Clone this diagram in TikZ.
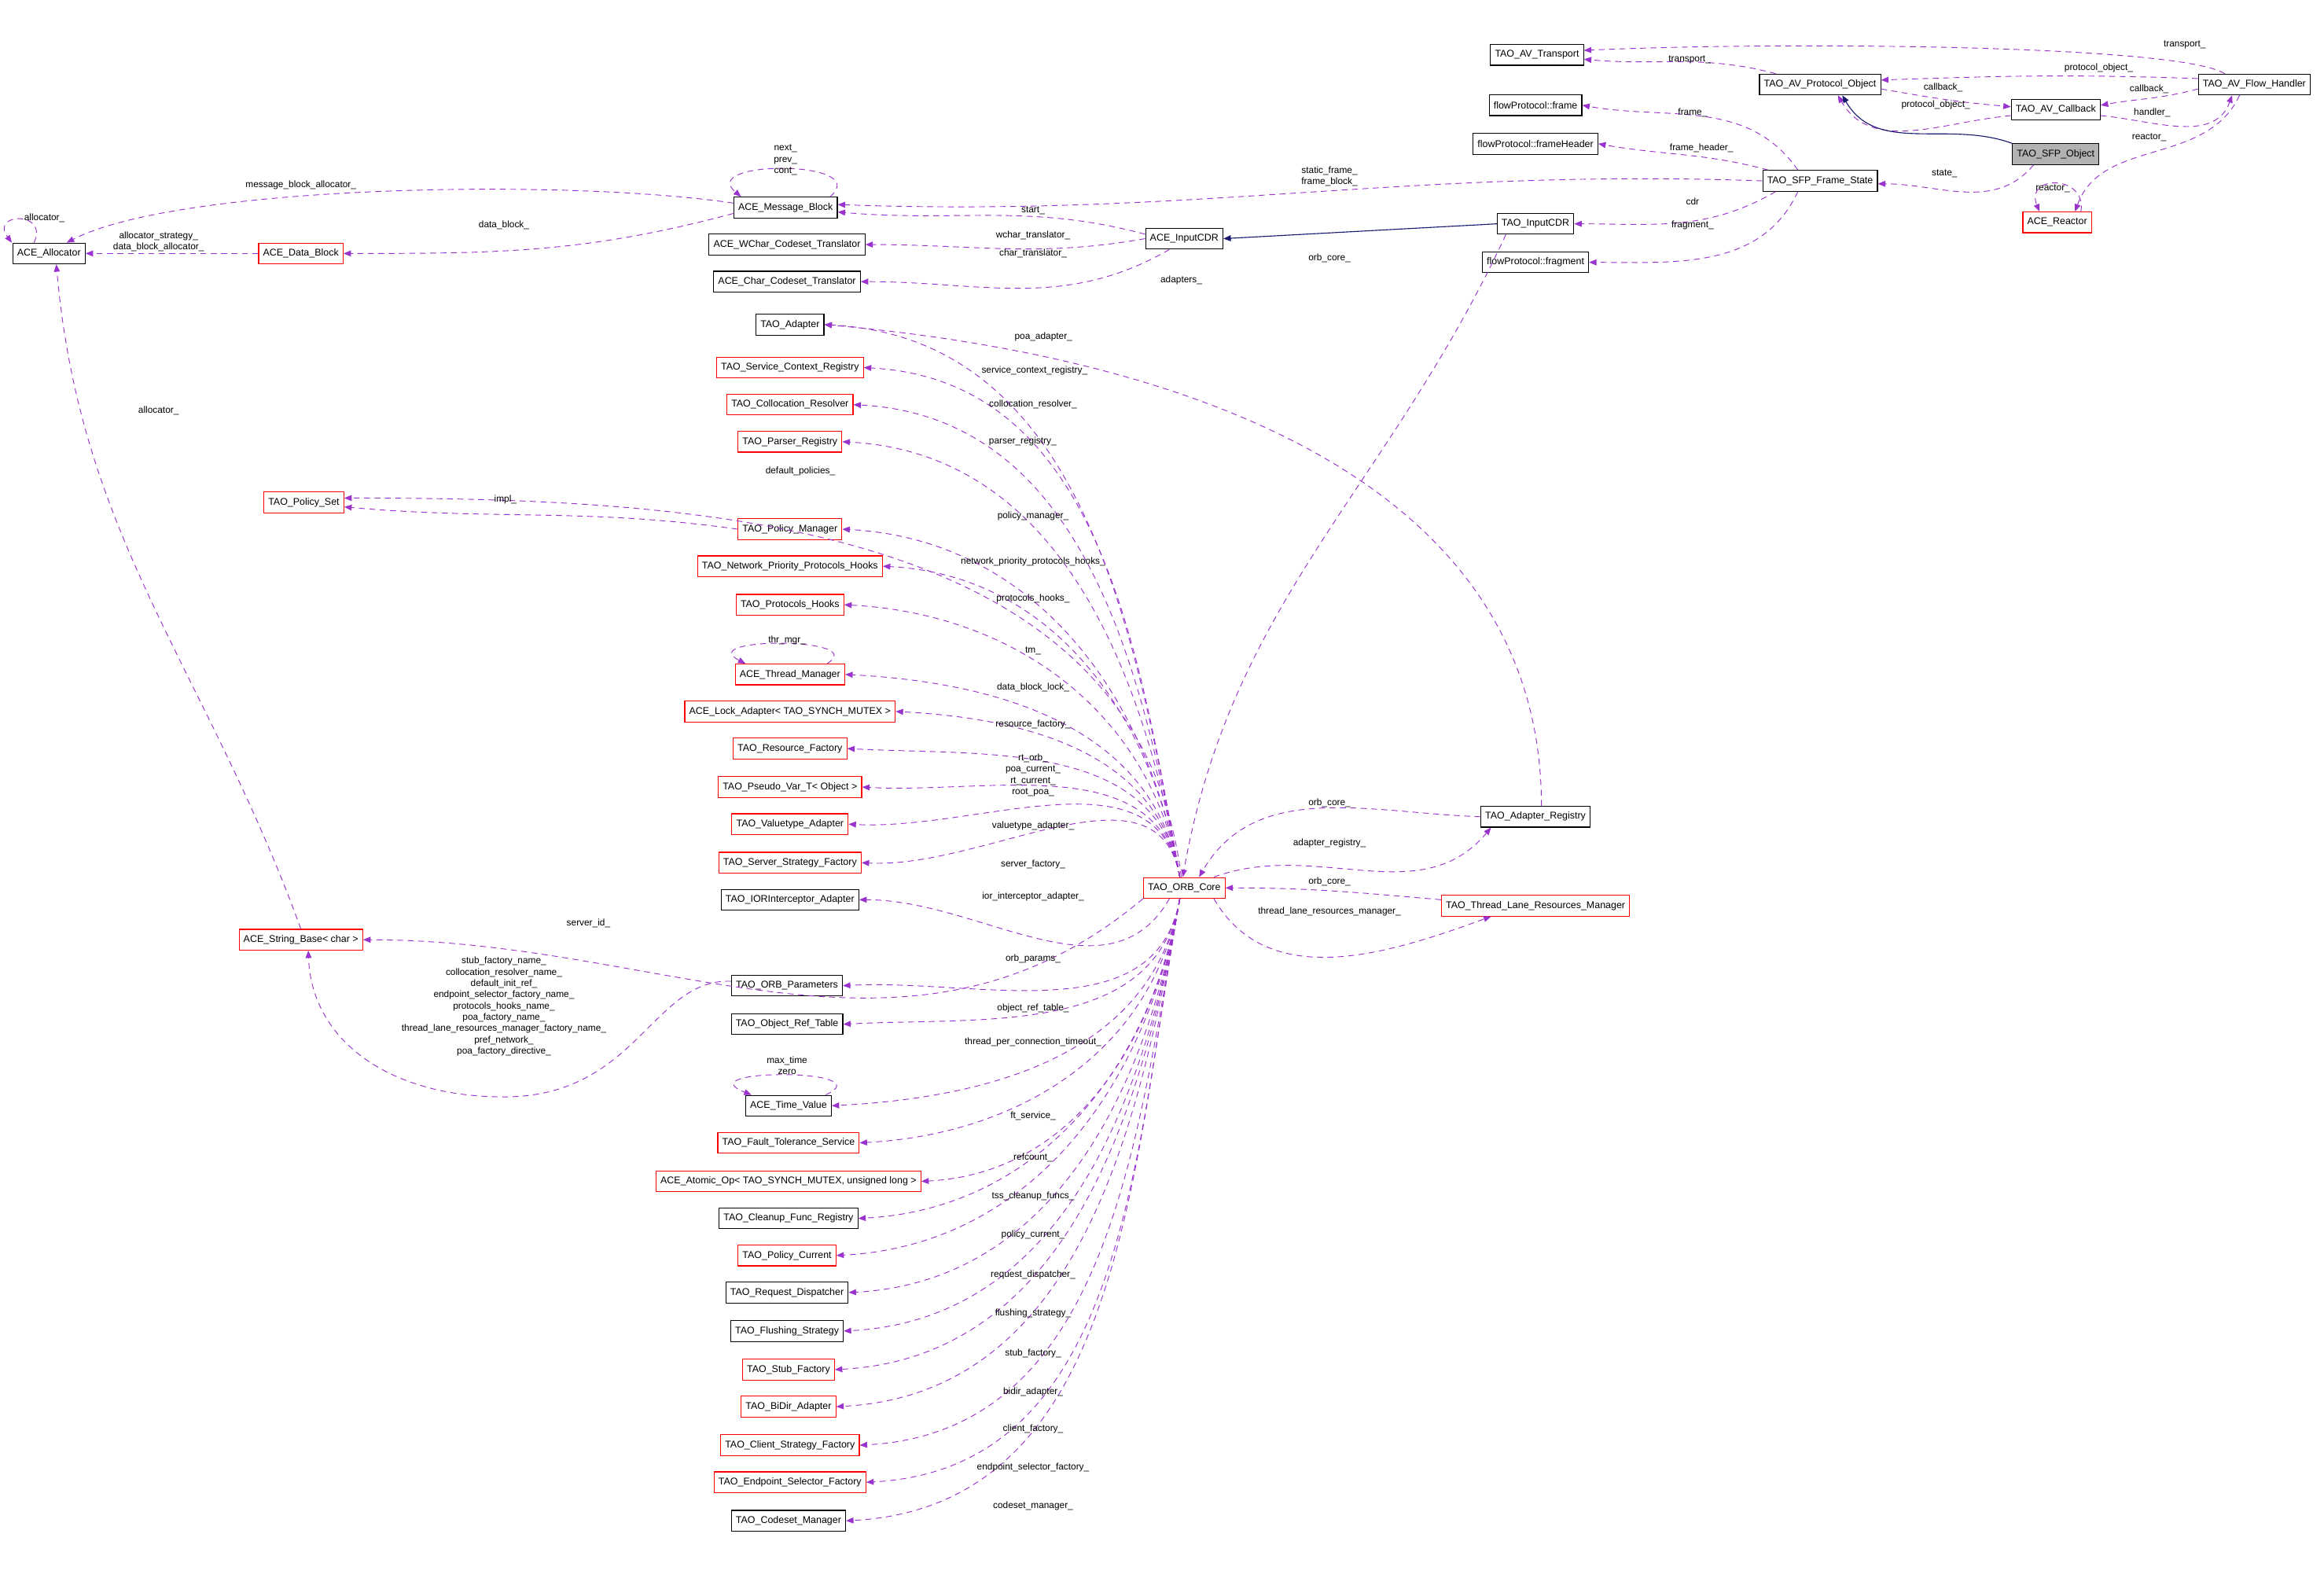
\documentclass[tikz,border=0pt]{standalone}
\usepackage{fontspec}
\setmainfont{Liberation Sans}
\usetikzlibrary{arrows.meta}
\definecolor{dep}{HTML}{9A32CD}
\definecolor{inh}{HTML}{191970}
\begin{document}
\begin{tikzpicture}[x=1pt,y=1pt,
 cls/.style={draw=black,line width=0.6pt,minimum height=14pt,inner xsep=3pt,inner ysep=0pt,font=\fontsize{6.6}{7}\selectfont,fill=white},
 rcls/.style={cls,draw=red},
 dp/.style={draw=dep,dashed,dash pattern=on 4pt off 3pt,line width=0.5pt,-{Triangle[length=5pt,width=4pt,fill=dep]}},
 ih/.style={draw=inh,line width=0.6pt,-{Triangle[length=5pt,width=4pt,fill=inh]}},
 lb/.style={font=\fontsize{6.3}{7.6}\selectfont,align=center,inner sep=0pt}]
\useasboundingbox[fill=white] (0,0) rectangle (1568,-1072);
% top right
\node[cls] (tr) at (1037,-37) {TAO\_AV\_Transport};
\node[cls] (po) at (1228,-57) {TAO\_AV\_Protocol\_Object};
\node[cls] (fh) at (1521,-57) {TAO\_AV\_Flow\_Handler};
\node[cls] (cb) at (1387,-74) {TAO\_AV\_Callback};
\node[cls,fill=black!30] (sfp) at (1387,-104) {TAO\_SFP\_Object};
\node[rcls] (re) at (1388,-150) {ACE\_Reactor};
\node[cls] (fr) at (1036,-71) {flowProtocol::frame};
\node[cls] (fhd) at (1036,-97) {flowProtocol::frameHeader};
\node[cls] (fs) at (1228,-122) {TAO\_SFP\_Frame\_State};
\node[cls] (ic) at (1036,-151) {TAO\_InputCDR};
\node[cls] (fg) at (1036,-177) {flowProtocol::fragment};
\node[cls] (ac) at (799,-161) {ACE\_InputCDR};
\node[cls] (mb) at (530,-140) {ACE\_Message\_Block};
\node[cls] (wc) at (531,-165) {ACE\_WChar\_Codeset\_Translator};
\node[cls] (cc) at (531,-190) {ACE\_Char\_Codeset\_Translator};
\node[cls] (al) at (33,-171) {ACE\_Allocator};
\node[rcls] (db) at (203,-171) {ACE\_Data\_Block};
% orb core
\node[rcls] (orb) at (799,-599) {TAO\_ORB\_Core};
\node[cls] (ar) at (1036,-551) {TAO\_Adapter\_Registry};
\node[rcls] (tl) at (1036,-611) {TAO\_Thread\_Lane\_Resources\_Manager};
\node[rcls] (ps) at (205,-339) {TAO\_Policy\_Set};
\node[rcls] (sb) at (203,-634) {ACE\_String\_Base< char >};
% member column
\node[cls] (m1) at (533,-219) {TAO\_Adapter};
\node[rcls] (m2) at (533,-248) {TAO\_Service\_Context\_Registry};
\node[rcls] (m3) at (533,-273) {TAO\_Collocation\_Resolver};
\node[rcls] (m4) at (533,-298) {TAO\_Parser\_Registry};
\node[rcls] (pm) at (533,-357) {TAO\_Policy\_Manager};
\node[rcls] (m6) at (533,-382) {TAO\_Network\_Priority\_Protocols\_Hooks};
\node[rcls] (m7) at (533,-408) {TAO\_Protocols\_Hooks};
\node[rcls] (tm) at (533,-455) {ACE\_Thread\_Manager};
\node[rcls] (m9) at (533,-480) {ACE\_Lock\_Adapter< TAO\_SYNCH\_MUTEX >};
\node[rcls] (m10) at (533,-505) {TAO\_Resource\_Factory};
\node[rcls] (m11) at (533,-531) {TAO\_Pseudo\_Var\_T< Object >};
\node[rcls] (m12) at (533,-556) {TAO\_Valuetype\_Adapter};
\node[rcls] (m13) at (533,-582) {TAO\_Server\_Strategy\_Factory};
\node[cls] (m14) at (533,-607) {TAO\_IORInterceptor\_Adapter};
\node[cls] (op) at (531,-665) {TAO\_ORB\_Parameters};
\node[cls] (m16) at (531,-691) {TAO\_Object\_Ref\_Table};
\node[cls] (tv) at (532,-746) {ACE\_Time\_Value};
\node[rcls] (m18) at (532,-771) {TAO\_Fault\_Tolerance\_Service};
\node[rcls] (m19) at (532,-797) {ACE\_Atomic\_Op< TAO\_SYNCH\_MUTEX, unsigned long >};
\node[cls] (m20) at (532,-822) {TAO\_Cleanup\_Func\_Registry};
\node[rcls] (m21) at (531,-847) {TAO\_Policy\_Current};
\node[cls] (m22) at (531,-872) {TAO\_Request\_Dispatcher};
\node[cls] (m23) at (531,-898) {TAO\_Flushing\_Strategy};
\node[rcls] (m24) at (532,-924) {TAO\_Stub\_Factory};
\node[rcls] (m25) at (532,-949) {TAO\_BiDir\_Adapter};
\node[rcls] (m26) at (533,-975) {TAO\_Client\_Strategy\_Factory};
\node[rcls] (m27) at (533,-1000) {TAO\_Endpoint\_Selector\_Factory};
\node[cls] (m28) at (532,-1026) {TAO\_Codeset\_Manager};
% top right edges
\draw[dp] ([xshift=-20]fh.north) .. controls (1470,-30) and (1200,-28) .. ([yshift=3]tr.east);
\draw[dp] ([xshift=-30]po.north) to[out=165,in=-5] ([yshift=-3]tr.east);
\draw[dp] ([yshift=4]fh.west) to[out=178,in=2] ([yshift=3]po.east);
\draw[dp] ([yshift=-3]po.east) to[out=-10,in=175] ([yshift=2]cb.west);
\draw[dp] ([yshift=-3]fh.west) to[out=195,in=10] ([yshift=3]cb.east);
\draw[dp] ([yshift=-4]cb.west) to[out=185,in=-60] ([xshift=12]po.south);
\draw[dp] ([yshift=-4]cb.east) to[out=-5,in=-110] ([xshift=-15]fh.south);
\draw[dp] ([xshift=-10]fh.south) to[out=-115,in=70] ([xshift=12]re.north);
\draw[dp] ([xshift=16]re.north) .. controls +(4,25) and +(-10,25) .. ([xshift=-12]re.north);
\draw[ih] (sfp.north west) to[out=160,in=-60] ([xshift=15]po.south);
\draw[dp] ([xshift=-15]sfp.south) to[out=-130,in=0] ([yshift=-2]fs.east);
\draw[dp] ([xshift=-15]fs.north) to[out=125,in=-10] (fr.east);
\draw[dp] ([xshift=-35]fs.north) to[out=165,in=-10] (fhd.east);
\draw[dp] ([xshift=-30]fs.south) to[out=-150,in=0] (ic.east);
\draw[dp] ([xshift=-15]fs.south) to[out=-115,in=0] (fg.east);
\draw[dp] (fs.west) to[out=178,in=-2] ([yshift=2]mb.east);
\draw[ih] (ic.west) to (ac.east);
\draw[dp] ([yshift=3]ac.west) to[out=165,in=-5] ([yshift=-3]mb.east);
\draw[dp] (ac.west) to[out=190,in=0] (wc.east);
\draw[dp] ([xshift=-10]ac.south) to[out=-150,in=0] (cc.east);
\draw[dp] ([xshift=-20]ic.south) to[out=-115,in=80] ([xshift=-1]orb.north);
\draw[dp] ([xshift=30]mb.north) .. controls +(30,25) and +(-30,25) .. ([xshift=-30]mb.north);
\draw[dp] ([yshift=3]mb.west) .. controls (380,-120) and (120,-125) .. ([xshift=12]al.north);
\draw[dp] ([yshift=-4]mb.west) to[out=195,in=0] (db.east);
\draw[dp] (db.west) to (al.east);
\draw[dp] ([xshift=-10]al.north) .. controls +(10,22) and +(-15,20) .. ([xshift=-25]al.north);
\draw[dp] (sb.north) to[out=110,in=-85] ([xshift=5]al.south);
% orb core edges
\draw[dp] ([xshift=4]ar.north) to[out=90,in=-5] (m1.east);
\draw[dp] (ar.west) to[out=178,in=60] ([xshift=10]orb.north);
\draw[dp] ([xshift=20]orb.north) to[out=20,in=-130] ([xshift=-30]ar.south);
\draw[dp] ([yshift=4]tl.west) to[out=175,in=0] (orb.east);
\draw[dp] ([xshift=20]orb.south) to[out=-60,in=-160] ([xshift=-30]tl.south);
\draw[dp] (pm.west) to[out=172,in=-5] ([yshift=-3]ps.east);
\draw[dp] ([xshift=-2]orb.north) to[out=97,in=0] ([yshift=3]ps.east);
\foreach \m in {m1,m2,m3,m4,pm,m6,m7,tm,m9,m10,m11,m12,m13}
  \draw[dp] ([xshift=-3]orb.north) to[out=100,in=-3] (\m.east);
\draw[dp] ([xshift=-10]orb.south) to[out=-120,in=0] (m14.east);
\draw[dp] (orb.south west) to[out=-140,in=0] (sb.east);
\foreach \m in {op,m16,tv,m18,m19,m20,m21,m22,m23,m24,m25,m26,m27,m28}
  \draw[dp] ([xshift=-3]orb.south) to[out=-100,in=3] (\m.east);
\draw[dp] ([xshift=25]tm.north) .. controls +(30,18) and +(-35,18) .. ([xshift=-30]tm.north);
\draw[dp] ([xshift=25]tv.north) .. controls +(40,18) and +(-45,18) .. ([xshift=-25]tv.north);
\draw[dp] ([yshift=3]op.west) .. controls (440,-660) and (430,-740) .. (340,-740) .. controls (260,-740) and (210,-700) .. ([xshift=5]sb.south);
% labels
\node[lb] (l1) at (1474,-30) {transport\_};
\node[lb] (l2) at (1140,-40) {transport\_};
\node[lb] (l3) at (1416,-46) {protocol\_object\_};
\node[lb] (l4) at (1311,-59) {callback\_};
\node[lb] (l5) at (1306,-71) {protocol\_object\_};
\node[lb] (l6) at (1450,-60) {callback\_};
\node[lb] (l7) at (1452,-76) {handler\_};
\node[lb] (l8) at (1450,-93) {reactor\_};
\node[lb] (l9) at (1385,-127) {reactor\_};
\node[lb] (l10) at (1142,-76) {frame\_};
\node[lb] (l11) at (1148,-100) {frame\_header\_};
\node[lb] (l12) at (1142,-136) {cdr};
\node[lb] (l13) at (1142,-152) {fragment\_};
\node[lb] (l14) at (1312,-117) {state\_};
\node[lb] (l15) at (897,-119) {static\_frame\_\\frame\_block\_};
\node[lb] (l16) at (697,-142) {start\_};
\node[lb] (l17) at (697,-159) {wchar\_translator\_};
\node[lb] (l18) at (697,-171) {char\_translator\_};
\node[lb] (l19) at (897,-174) {orb\_core\_};
\node[lb] (l20) at (530,-108) {next\_\\prev\_\\cont\_};
\node[lb] (l21) at (203,-125) {message\_block\_allocator\_};
\node[lb] (l22) at (340,-152) {data\_block\_};
\node[lb] (l23) at (107,-163) {allocator\_strategy\_\\data\_block\_allocator\_};
\node[lb] (l24) at (30,-147) {allocator\_};
\node[lb] (l25) at (107,-277) {allocator\_};
\node[lb] (l26) at (797,-189) {adapters\_};
\node[lb] (c1) at (704,-227) {poa\_adapter\_};
\node[lb] (c2) at (698,-250) {service\_context\_registry\_};
\node[lb] (c3) at (697,-273) {collocation\_resolver\_};
\node[lb] (c4) at (690,-298) {parser\_registry\_};
\node[lb] (c5) at (540,-318) {default\_policies\_};
\node[lb] (c6) at (341,-337) {impl\_};
\node[lb] (c7) at (697,-348) {policy\_manager\_};
\node[lb] (c8) at (697,-379) {network\_priority\_protocols\_hooks\_};
\node[lb] (c9) at (697,-404) {protocols\_hooks\_};
\node[lb] (c10) at (531,-432) {thr\_mgr\_};
\node[lb] (c11) at (697,-439) {tm\_};
\node[lb] (c12) at (697,-464) {data\_block\_lock\_};
\node[lb] (c13) at (697,-489) {resource\_factory\_};
\node[lb] (c14) at (697,-523) {rt\_orb\_\\poa\_current\_\\rt\_current\_\\root\_poa\_};
\node[lb] (c15) at (697,-557) {valuetype\_adapter\_};
\node[lb] (c16) at (697,-583) {server\_factory\_};
\node[lb] (c17) at (697,-605) {ior\_interceptor\_adapter\_};
\node[lb] (c18) at (397,-623) {server\_id\_};
\node[lb] (c19) at (697,-647) {orb\_params\_};
\node[lb] (c20) at (697,-680) {object\_ref\_table\_};
\node[lb] (c21) at (697,-703) {thread\_per\_connection\_timeout\_};
\node[lb] (c22) at (531,-719) {max\_time\\zero};
\node[lb] (c23) at (697,-753) {ft\_service\_};
\node[lb] (c24) at (697,-781) {refcount\_};
\node[lb] (c25) at (697,-807) {tss\_cleanup\_funcs\_};
\node[lb] (c26) at (697,-833) {policy\_current\_};
\node[lb] (c27) at (697,-860) {request\_dispatcher\_};
\node[lb] (c28) at (697,-886) {flushing\_strategy\_};
\node[lb] (c29) at (697,-913) {stub\_factory\_};
\node[lb] (c30) at (697,-939) {bidir\_adapter\_};
\node[lb] (c31) at (697,-964) {client\_factory\_};
\node[lb] (c32) at (697,-990) {endpoint\_selector\_factory\_};
\node[lb] (c33) at (697,-1016) {codeset\_manager\_};
\node[lb] (c34) at (897,-542) {orb\_core\_};
\node[lb] (c35) at (897,-569) {adapter\_registry\_};
\node[lb] (c36) at (897,-595) {orb\_core\_};
\node[lb] (c37) at (897,-615) {thread\_lane\_resources\_manager\_};
\node[lb] (c38) at (340,-679) {stub\_factory\_name\_\\collocation\_resolver\_name\_\\default\_init\_ref\_\\endpoint\_selector\_factory\_name\_\\protocols\_hooks\_name\_\\poa\_factory\_name\_\\thread\_lane\_resources\_manager\_factory\_name\_\\pref\_network\_\\poa\_factory\_directive\_};
\end{tikzpicture}
\end{document}
